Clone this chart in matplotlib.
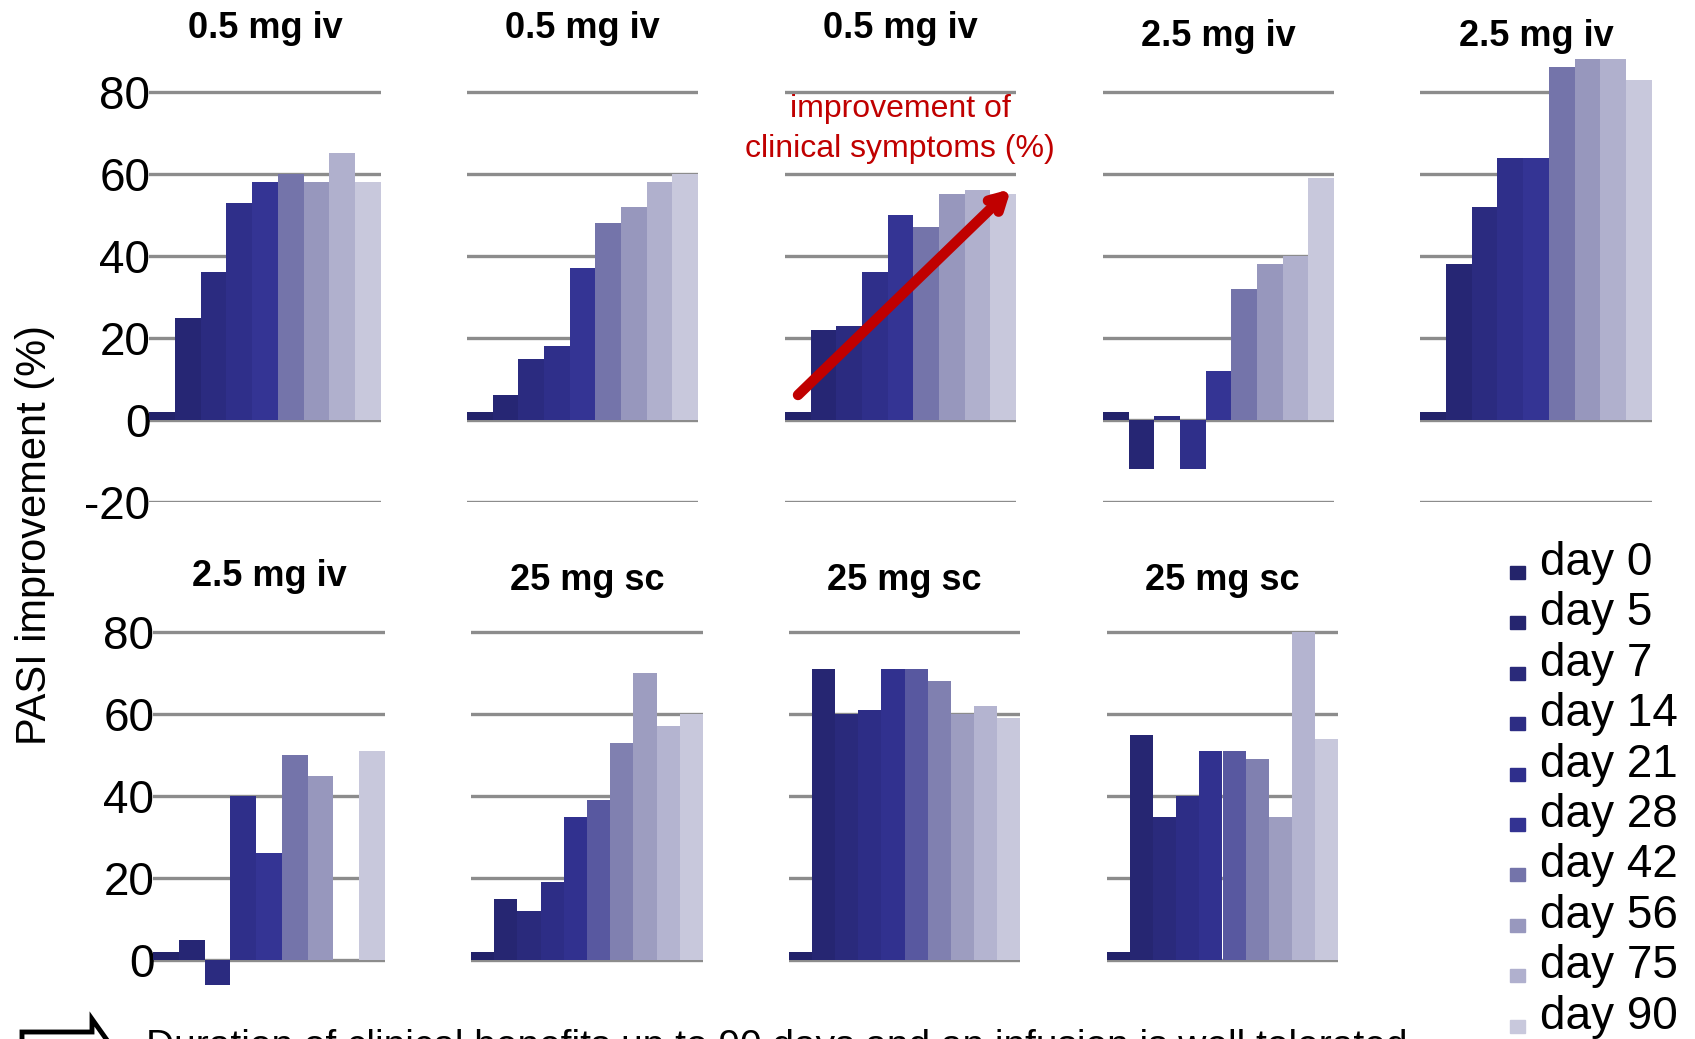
import numpy as np
import matplotlib
matplotlib.use('Agg')
import matplotlib.pyplot as plt
from matplotlib.patches import Rectangle, Polygon

plt.rcParams['font.family'] = ['Liberation Sans', 'DejaVu Sans']
plt.rcParams['axes.unicode_minus'] = False

# sampling days
days = [0, 5, 7, 14, 21, 28, 42, 56, 75, 90]
day_labels = ['day 0', 'day 5', 'day 7', 'day 14', 'day 21', 'day 28',
              'day 42', 'day 56', 'day 75', 'day 90']
iv_days = [0, 5, 7, 14, 21, 42, 56, 75, 90]   # no day 28 visit for iv
sc_days = [0, 5, 7, 14, 21, 28, 42, 56, 75, 90]

# PASI improvement (%) per patient
iv05_p1 = [2, 25, 36, 53, 58, 60, 58, 65, 58]
iv05_p2 = [2, 6, 15, 18, 37, 48, 52, 58, 60]
iv05_p3 = [2, 22, 23, 36, 50, 47, 55, 56, 55]
iv25_p1 = [2, -12, 1, -12, 12, 32, 38, 40, 59]
iv25_p2 = [2, 38, 52, 64, 64, 86, 88, 88, 83]
iv25_p3 = [2, 5, -6, 40, 26, 50, 45, np.nan, 51]
sc25_p1 = [2, 15, 12, 19, 35, 39, 53, 70, 57, 60]
sc25_p2 = [2, 71, 60, 61, 71, 71, 68, 60, 62, 59]
sc25_p3 = [2, 55, 35, 40, 51, 51, 49, 35, 80, 54]

titles = ['0.5 mg iv', '0.5 mg iv', '0.5 mg iv', '2.5 mg iv', '2.5 mg iv',
          '2.5 mg iv', '25 mg sc', '25 mg sc', '25 mg sc']

legend_colors = ['#24246b', '#25256f', '#2a2a7a', '#2d2d84', '#2f2f8c', '#333392',
                 '#7474aa', '#9898be', '#b0b0ce', '#c8c8dc']
iv_colors = ['#23236b', '#262674', '#2b2b80', '#2f2f8a', '#343494',
             '#7474aa', '#9797bd', '#b0b0cd', '#c8c8dc']
sc_colors = ['#22226a', '#262672', '#2a2a7c', '#2d2d86', '#31318f', '#5858a0',
             '#8080b0', '#9d9dc0', '#b4b4d0', '#c8c8dc']

top_ticks = [-20, 0, 20, 40, 60, 80]
bot_ticks = [0, 20, 40, 60, 80]

W, H = 1695, 1039
fig = plt.figure(figsize=(W/100, H/100), dpi=100)

def px_axes(x0, x1, ytop, ybot):
    return fig.add_axes([x0/W, 1 - ybot/H, (x1 - x0)/W, (ybot - ytop)/H])

# panel boxes in pixels
top_x = [(149, 381), (467, 698), (785, 1016), (1103, 1334), (1420, 1652)]
bot_x = [(153, 385), (471, 703), (789, 1020), (1107, 1338)]
top_title_y = [29, 29, 29, 36, 36]
bot_title_y = [576, 580, 580, 580]

series = [(iv05_p1, iv_colors), (iv05_p2, iv_colors), (iv05_p3, iv_colors),
          (iv25_p1, iv_colors), (iv25_p2, iv_colors), (iv25_p3, iv_colors),
          (sc25_p1, sc_colors), (sc25_p2, sc_colors), (sc25_p3, sc_colors)]

boxes = []
for i, (x0, x1) in enumerate(top_x):
    boxes.append((x0, x1, 420 - 92*4.1, 502, top_title_y[i], i == 0, top_ticks))
for i, (x0, x1) in enumerate(bot_x):
    boxes.append((x0, x1, 960 - 92*4.1, 1042, bot_title_y[i], i == 0, bot_ticks))

axes = []
for k, ((vals, cols), (x0, x1, yt, yb, ty, first, ticks)) in enumerate(zip(series, boxes)):
    ax = px_axes(x0, x1, yt, yb)
    n = len(vals)
    xs = np.arange(n)
    ax.bar(xs, vals, width=1.0, color=cols[:n], zorder=2, linewidth=0)
    for t in ticks:
        ax.axhline(t, color='#8c8c8c', lw=2.4, zorder=1)
    ax.set_xlim(-0.5, n - 0.5)
    ax.set_ylim(-20, 92)
    for s in ax.spines.values():
        s.set_visible(False)
    ax.set_xticks([])
    ax.set_yticks(ticks)
    ax.tick_params(axis='y', length=0, pad=-1, labelsize=33)
    if not first:
        ax.set_yticklabels([])
    ax.patch.set_alpha(0)
    fig.text((x0 + x1)/2/W, 1 - ty/H, titles[k], ha='center', va='center',
             fontsize=26, fontweight='bold')
    axes.append(ax)

# red arrow across the third panel
axes[2].annotate('', xy=(1011/W, 1 - 189/H), xytext=(798/W, 1 - 395/H),
                 xycoords='figure fraction', textcoords='figure fraction',
                 arrowprops=dict(arrowstyle='->,head_length=1.0,head_width=0.55',
                                 color='#c00000', lw=7.5, shrinkA=0, shrinkB=0),
                 zorder=5)
fig.text(900/W, 1 - 129/H, 'improvement of\nclinical symptoms (%)', color='#c00000',
         ha='center', va='center', fontsize=23, linespacing=1.45)

fig.text(35/W, 1 - 535/H, 'PASI improvement (%)', rotation=90, ha='center',
         va='center', fontsize=30)

# legend
for i, (lab, c) in enumerate(zip(day_labels, legend_colors)):
    yc = 563 + i*50.4
    fig.patches.append(Rectangle((1510/W, 1 - (yc + 16)/H), 15/W, 13/H,
                                 transform=fig.transFigure, color=c))
    fig.text(1540/W, 1 - yc/H, lab, ha='left', va='center', fontsize=33)

# footer line with block arrow
arrow_pts = [(22, 1032), (92, 1032), (92, 1019), (114, 1050), (92, 1080), (22, 1080)]
fig.patches.append(Polygon([(x/W, 1 - y/H) for x, y in arrow_pts], closed=True,
                           transform=fig.transFigure, facecolor='white',
                           edgecolor='black', lw=3.5))
fig.text(146/W, 1 - 1057/H,
         'Duration of clinical benefits up to 90 days and an infusion is well tolerated',
         ha='left', va='baseline', fontsize=28)

plt.savefig('out.png', dpi=100)
